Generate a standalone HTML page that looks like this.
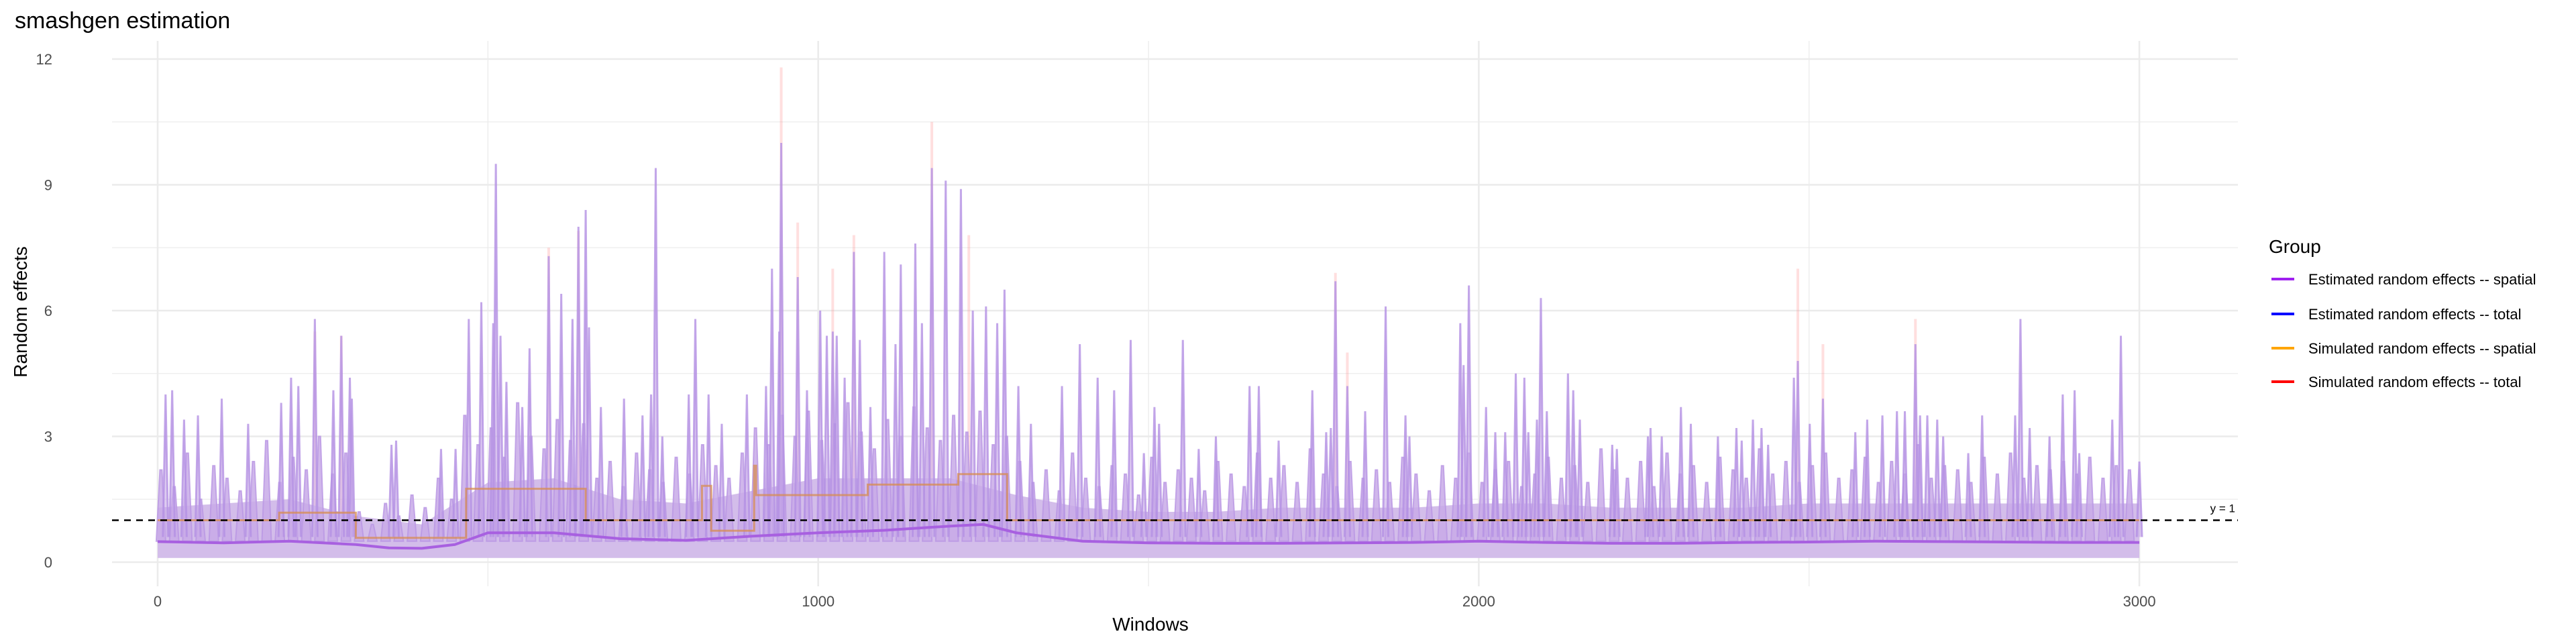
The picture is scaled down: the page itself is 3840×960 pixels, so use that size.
<!DOCTYPE html>
<html><head><meta charset="utf-8"><style>
body{margin:0;background:#fff;}
svg{display:block;font-family:"Liberation Sans",sans-serif;}
</style></head><body>
<svg id="chart" width="3840" height="960" viewBox="0 0 3840 960" xmlns="http://www.w3.org/2000/svg">
<text x="22" y="42" font-size="34" fill="#000">smashgen estimation</text>
<g id="grid"></g>
<g id="marks"></g>
<g id="axes"></g>
<text x="1715" y="940" font-size="28" text-anchor="middle" fill="#000">Windows</text>
<text transform="translate(40,465) rotate(-90)" font-size="28" text-anchor="middle" fill="#000">Random effects</text>
<g>
<text x="3382" y="377" font-size="28" fill="#000">Group</text>
<g><line x1="3386" y1="416" x2="3420" y2="416" stroke="#a020f0" stroke-width="4"/><text x="3441" y="424" font-size="22" fill="#000">Estimated random effects -- spatial</text></g>
<g><line x1="3386" y1="468" x2="3420" y2="468" stroke="#0000ff" stroke-width="4"/><text x="3441" y="476" font-size="22" fill="#000">Estimated random effects -- total</text></g>
<g><line x1="3386" y1="519" x2="3420" y2="519" stroke="#ffa500" stroke-width="4"/><text x="3441" y="527" font-size="22" fill="#000">Simulated random effects -- spatial</text></g>
<g><line x1="3386" y1="569" x2="3420" y2="569" stroke="#ff0000" stroke-width="4"/><text x="3441" y="577" font-size="22" fill="#000">Simulated random effects -- total</text></g>
</g>
</svg>
<script>
const xTicks=[0,1000,2000,3000];
const xMinor=[500,1500,2500];
const yTicks=[0,3,6,9,12];
const yMinor=[1.5,4.5,7.5,10.5];
const spikeW=[12,22,40,61,97,137,187,202,213,238,266,278,291,294,354,361,429,451,471,490,508,512,519,528,552,563,592,611,628,637,648,653,671,706,734,747,754,764,804,814,834,854,892,921,930,941,944,969,983,1003,1013,1022,1028,1040,1054,1063,1079,1100,1117,1125,1147,1157,1172,1193,1216,1234,1254,1271,1282,1303,1322,1369,1396,1423,1448,1473,1493,1509,1516,1552,1576,1602,1653,1667,1697,1748,1769,1776,1783,1801,1828,1859,1889,1895,1972,1977,1985,2011,2025,2040,2056,2069,2075,2088,2094,2103,2135,2143,2153,2202,2209,2256,2260,2277,2306,2321,2362,2390,2398,2415,2428,2438,2477,2483,2501,2521,2570,2588,2611,2633,2645,2661,2668,2679,2694,2703,2741,2762,2812,2820,2834,2864,2884,2902,2909,2959,2972,3000];
const spikeV=[4.0,4.1,3.4,3.5,3.9,3.3,3.8,4.4,4.2,5.8,4.1,5.4,4.4,3.9,2.8,2.9,2.7,2.7,5.8,6.2,5.7,9.5,5.4,4.3,3.7,5.1,7.3,6.4,5.8,8.0,8.4,5.6,3.7,3.9,3.5,4.0,9.4,3.0,4.0,5.8,4.0,3.3,4.0,4.2,7.0,5.5,10.0,6.8,4.1,6.0,5.4,5.5,5.4,4.4,7.4,5.3,3.7,7.4,5.2,7.1,7.6,5.7,9.4,9.1,8.9,6.0,6.1,5.7,6.5,4.2,3.3,4.2,5.2,4.4,4.1,5.3,2.6,3.7,3.3,5.3,2.7,3.0,4.2,4.2,2.9,4.1,3.1,3.2,6.7,4.2,3.6,6.1,3.5,3.0,5.7,4.7,6.6,3.7,3.1,3.1,4.5,4.4,3.1,3.4,6.3,3.6,4.5,4.1,3.4,2.8,2.7,3.0,3.2,3.0,3.7,3.3,3.0,3.2,2.9,3.4,3.2,2.8,4.4,4.8,3.3,3.9,3.1,3.4,3.5,3.6,3.6,5.2,3.5,3.5,3.4,3.0,2.6,3.5,3.5,5.8,3.2,3.0,4.0,4.1,2.6,3.4,5.4,2.4];
const pinkW=[944,969,1022,1054,1172,1228,1783,2483,2521,2661,1801,238,278,592,637];
const pinkV=[11.8,8.1,7.0,7.8,10.5,7.8,6.9,7.0,5.2,5.8,5.0,5.5,5.4,7.5,7.9];
// minor spikes: one per 20-window bin, starting at window 5
const minorStart=5, minorStep=20;
const minorV=[2.2,1.8,2.6,1.5,2.3,2.0,1.7,2.4,2.9,1.9,2.5,2.2,3.0,2.1,2.6,
1.2,0.9,1.4,1.1,1.6,1.3,2.0,1.5,
3.5,2.8,3.2,2.5,3.8,3.0,2.7,3.4,2.9,3.3,
2.0,2.4,1.8,2.6,2.2,1.9,2.5,2.1,2.8,2.3,2.0,2.6,
3.2,2.8,3.5,3.0,3.6,2.9,3.3,3.8,3.1,2.7,3.4,3.0,3.7,3.2,2.9,3.5,3.1,3.6,2.8,3.0,
2.4,1.9,2.2,1.7,2.6,2.0,1.8,2.3,2.1,1.6,2.5,1.9,2.2,2.0,1.7,2.4,2.1,1.8,2.6,2.0,
2.3,1.9,2.7,2.1,1.8,2.4,2.0,2.2,1.9,2.5,2.1,1.7,2.3,2.0,2.6,1.9,2.2,2.4,1.8,2.1,
2.5,2.0,2.3,1.9,2.7,2.2,2.0,2.4,1.8,2.6,2.1,2.3,1.9,2.5,2.2,2.0,2.7,2.1,2.4,1.9,
2.3,2.6,2.0,2.2,2.5,1.9,2.4,2.1,2.8,2.0,2.3,2.2,1.9,2.5,2.1,2.6,2.0,2.3,2.2,2.4,
2.1,2.5,2.0,2.3,2.2];
const bandW=[0,100,200,300,400,500,600,700,800,900,1000,1100,1200,1300,1400,1500,1600,1700,1800,1900,2000,2100,2200,2300,2400,2500,2600,2700,2800,2900,3000];
const bandV=[1.3,1.4,1.5,1.1,0.9,1.9,2.0,1.5,1.4,1.7,2.0,2.0,2.0,1.6,1.3,1.2,1.2,1.3,1.3,1.3,1.4,1.4,1.3,1.3,1.3,1.4,1.4,1.4,1.4,1.4,1.4];
const smoothW=[0,100,200,300,350,400,450,500,600,700,800,900,1000,1100,1200,1250,1300,1400,1500,1600,1700,1800,1900,2000,2100,2200,2300,2400,2500,2600,2700,2800,2900,3000];
const smoothV=[0.49,0.46,0.5,0.42,0.34,0.33,0.42,0.7,0.7,0.56,0.52,0.62,0.7,0.76,0.86,0.9,0.7,0.5,0.46,0.45,0.45,0.46,0.47,0.5,0.47,0.45,0.45,0.47,0.48,0.5,0.49,0.48,0.47,0.47];
const stepStart=[0,184,300,467,648,824,838,903,906,1075,1212,1286];
const stepVal=[1,1.18,0.58,1.75,1,1.82,0.75,2.3,1.6,1.85,2.1,1];
const stepEnd=3000;
const refY=1;

const NS="http://www.w3.org/2000/svg";
const L=167,R=3336,T=61,B=874;
function X(w){return 235+w*0.9847;}
function Y(v){return 838-v*62.5;}
function mk(tag,attrs,parent){const e=document.createElementNS(NS,tag);for(const k in attrs)e.setAttribute(k,attrs[k]);parent.appendChild(e);return e;}
const grid=document.getElementById('grid'),marks=document.getElementById('marks'),axes=document.getElementById('axes');
yMinor.forEach(v=>{const e=mk('line',{x1:L,x2:R,y1:Y(v),y2:Y(v),stroke:'#ebebeb','stroke-width':1.3},grid);

});
xMinor.forEach(v=>{const e=mk('line',{x1:X(v),x2:X(v),y1:T,y2:B,stroke:'#ebebeb','stroke-width':1.3},grid);

});
yTicks.forEach(v=>{const e=mk('line',{x1:L,x2:R,y1:Y(v),y2:Y(v),stroke:'#ebebeb','stroke-width':2.6},grid);


const t=mk('text',{x:78,y:Y(v)+8,'font-size':22,'text-anchor':'end',fill:'#4d4d4d'},axes);t.textContent=v;

});
xTicks.forEach(v=>{const e=mk('line',{x1:X(v),x2:X(v),y1:T,y2:B,stroke:'#ebebeb','stroke-width':2.6},grid);


const t=mk('text',{x:X(v),y:904,'font-size':22,'text-anchor':'middle',fill:'#4d4d4d'},axes);t.textContent=v;

});
// pink spikes (simulated total)
pinkW.forEach((w,i)=>{const e=mk('line',{x1:X(w),x2:X(w),y1:Y(0.3),y2:Y(pinkV[i]),stroke:'rgba(255,150,150,0.3)','stroke-width':4},marks);

});
// dense core band
let d='M'+X(bandW[0])+','+Y(0.1);
bandW.forEach((w,i)=>{d+=' L'+X(w)+','+Y(bandV[i]);});
d+=' L'+X(bandW[bandW.length-1])+','+Y(0.1)+' Z';
const core=mk('path',{d:d,fill:'#d3bdea',stroke:'none'},marks);


// minor spikes
minorV.forEach((v,i)=>{const w=minorStart+i*minorStep;
const e=mk('path',{d:'M'+(X(w)-7)+','+Y(0.5)+' L'+(X(w)-1.5)+','+Y(v)+' L'+(X(w)+1.5)+','+Y(v)+' L'+(X(w)+7)+','+Y(0.5)+' Z',fill:'rgba(200,170,232,0.85)',stroke:'rgba(185,150,228,0.8)','stroke-width':2},marks);

});
// main spikes
spikeW.forEach((w,i)=>{const e=mk('path',{d:'M'+(X(w)-4)+','+Y(0.6)+' L'+X(w)+','+Y(spikeV[i])+' L'+(X(w)+4)+','+Y(0.6),fill:'rgba(200,170,232,0.6)',stroke:'rgba(180,145,228,0.8)','stroke-width':3},marks);

});
// step line
let s='';
stepStart.forEach((w,i)=>{const e2=i<stepStart.length-1?stepStart[i+1]:stepEnd;s+=(i?' L':'M')+X(w)+','+Y(stepVal[i])+' L'+X(e2)+','+Y(stepVal[i]);});
const st=mk('path',{d:s,fill:'none',stroke:'rgba(215,140,80,0.75)','stroke-width':3},marks);


// smooth line
let sm='';
smoothW.forEach((w,i)=>{sm+=(i?' L':'M')+X(w)+','+Y(smoothV[i]);});
const sl=mk('path',{d:sm,fill:'none',stroke:'#a860e0','stroke-width':4,'stroke-linejoin':'round'},marks);


// reference line
const rl=mk('line',{x1:L,x2:R,y1:Y(refY),y2:Y(refY),stroke:'#000','stroke-width':2.5,'stroke-dasharray':'10,8'},marks);


const rt=mk('text',{x:3332,y:Y(refY)-12,'font-size':17,'text-anchor':'end',fill:'#000'},marks);rt.textContent='y = 1';


</script>
</body></html>
